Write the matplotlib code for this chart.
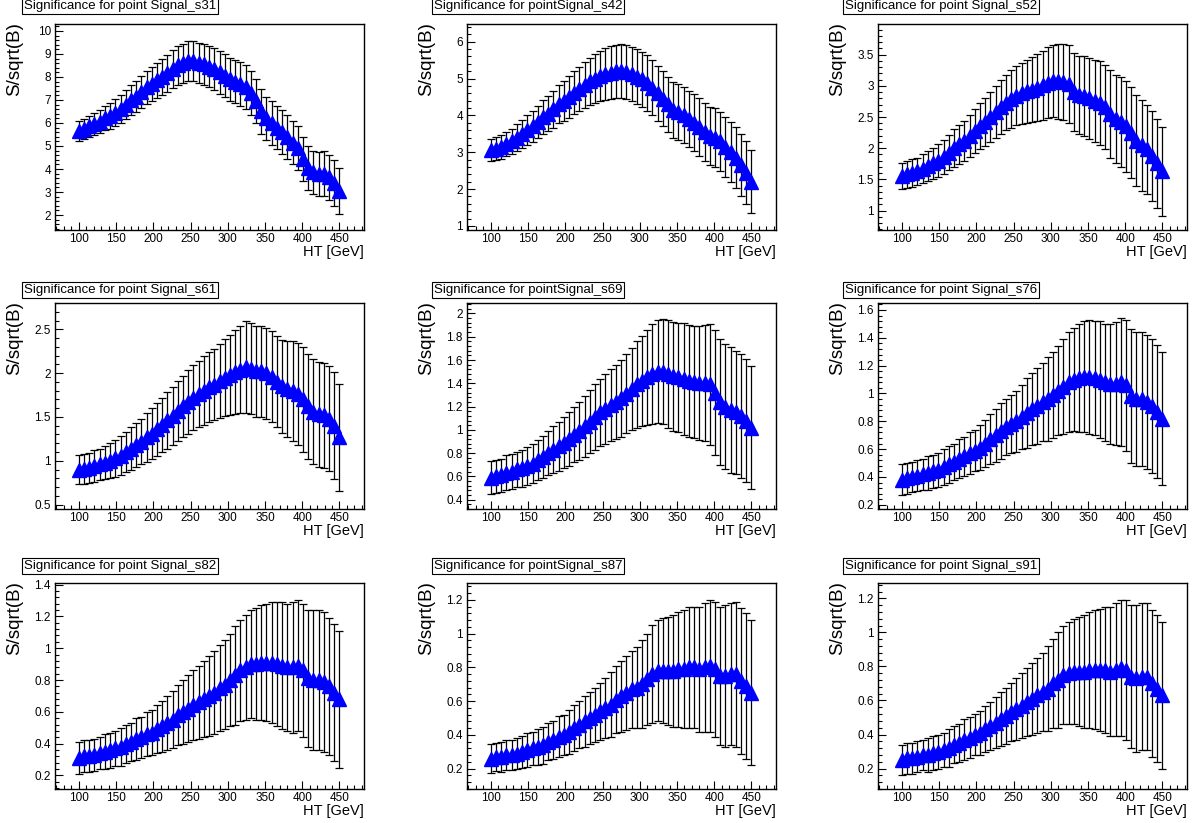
import numpy as np
import matplotlib.pyplot as plt
from matplotlib.ticker import MultipleLocator, AutoMinorLocator, FuncFormatter

plt.rcParams['font.family'] = ['Liberation Sans', 'DejaVu Sans']

# HT bin centres [GeV]
ht = [100, 107, 114, 121, 128, 135, 142, 149, 156, 163,
      170, 177, 184, 191, 198, 205, 212, 219, 226, 233,
      240, 247, 254, 261, 268, 275, 282, 289, 296, 303,
      310, 317, 324, 331, 338, 345, 352, 359, 366, 373,
      380, 387, 394, 401, 408, 415, 422, 429, 436, 443, 450]

# S/sqrt(B) and its error, one pair per signal point
s31 = [5.65, 5.75, 5.85, 5.95, 6.05, 6.2, 6.3, 6.45, 6.6, 6.8,
       7.0, 7.15, 7.35, 7.55, 7.7, 7.85, 8.0, 8.15, 8.35, 8.5,
       8.6, 8.7, 8.68, 8.6, 8.55, 8.45, 8.35, 8.2, 8.05, 7.9,
       7.8, 7.7, 7.55, 7.3, 6.95, 6.5, 6.2, 6.0, 5.8, 5.6,
       5.4, 5.15, 4.9, 4.45, 4.05, 3.85, 3.8, 3.8, 3.65, 3.4, 3.05]
e31 = [0.42, 0.43, 0.45, 0.47, 0.5, 0.52, 0.55, 0.57, 0.6, 0.62,
       0.65, 0.67, 0.7, 0.72, 0.74, 0.76, 0.78, 0.8, 0.82, 0.84,
       0.85, 0.86, 0.87, 0.88, 0.89, 0.9, 0.91, 0.92, 0.93, 0.94,
       0.95, 0.95, 0.96, 0.96, 0.96, 0.96, 0.95, 0.95, 0.95, 0.95,
       0.95, 0.95, 0.95, 0.95, 0.95, 0.95, 0.96, 0.97, 0.98, 1.0, 1.0]

s42 = [3.05, 3.1, 3.15, 3.22, 3.3, 3.4, 3.5, 3.6, 3.7, 3.82,
       3.95, 4.05, 4.17, 4.3, 4.4, 4.5, 4.62, 4.72, 4.82, 4.92,
       5.0, 5.07, 5.12, 5.16, 5.2, 5.2, 5.18, 5.12, 5.05, 4.98,
       4.88, 4.75, 4.6, 4.45, 4.3, 4.15, 4.08, 4.0, 3.9, 3.8,
       3.68, 3.55, 3.45, 3.4, 3.3, 3.15, 3.0, 2.85, 2.65, 2.45, 2.2]
e42 = [0.3, 0.31, 0.32, 0.33, 0.34, 0.36, 0.38, 0.4, 0.42, 0.44,
       0.46, 0.48, 0.5, 0.52, 0.54, 0.56, 0.58, 0.6, 0.62, 0.64,
       0.66, 0.68, 0.7, 0.71, 0.72, 0.73, 0.74, 0.74, 0.75, 0.75,
       0.75, 0.75, 0.75, 0.75, 0.75, 0.75, 0.76, 0.76, 0.77, 0.77,
       0.78, 0.78, 0.79, 0.8, 0.8, 0.81, 0.82, 0.83, 0.84, 0.85, 0.85]

s52 = [1.55, 1.58, 1.6, 1.63, 1.67, 1.71, 1.76, 1.8, 1.86, 1.93,
       2.0, 2.06, 2.12, 2.2, 2.28, 2.35, 2.42, 2.5, 2.58, 2.66,
       2.73, 2.79, 2.84, 2.88, 2.91, 2.94, 2.97, 3.01, 3.05, 3.08,
       3.07, 3.06, 3.03, 2.9, 2.85, 2.83, 2.8, 2.76, 2.72, 2.66,
       2.55, 2.47, 2.42, 2.35, 2.25, 2.12, 2.05, 1.98, 1.88, 1.76, 1.63]
e52 = [0.21, 0.21, 0.22, 0.22, 0.23, 0.24, 0.25, 0.26, 0.27, 0.28,
       0.3, 0.31, 0.32, 0.34, 0.35, 0.37, 0.38, 0.4, 0.41, 0.43,
       0.44, 0.46, 0.47, 0.49, 0.51, 0.52, 0.54, 0.55, 0.57, 0.58,
       0.6, 0.61, 0.62, 0.62, 0.63, 0.64, 0.65, 0.66, 0.67, 0.68,
       0.7, 0.71, 0.72, 0.73, 0.73, 0.73, 0.73, 0.72, 0.72, 0.71, 0.71]

s61 = [0.9, 0.91, 0.92, 0.94, 0.96, 0.98, 1.0, 1.03, 1.06, 1.1,
       1.14, 1.18, 1.22, 1.27, 1.31, 1.36, 1.41, 1.46, 1.51, 1.57,
       1.62, 1.67, 1.72, 1.76, 1.8, 1.84, 1.87, 1.91, 1.95, 1.98,
       2.01, 2.04, 2.07, 2.05, 2.02, 2.02, 2.0, 1.96, 1.9, 1.85,
       1.82, 1.8, 1.76, 1.7, 1.62, 1.56, 1.53, 1.52, 1.48, 1.4, 1.27]
e61 = [0.17, 0.17, 0.17, 0.18, 0.18, 0.19, 0.2, 0.21, 0.22, 0.23,
       0.24, 0.25, 0.26, 0.28, 0.29, 0.3, 0.31, 0.32, 0.33, 0.34,
       0.35, 0.36, 0.37, 0.38, 0.39, 0.4, 0.41, 0.42, 0.44, 0.46,
       0.48, 0.5, 0.52, 0.52, 0.52, 0.52, 0.52, 0.52, 0.52, 0.53,
       0.55, 0.57, 0.58, 0.6, 0.6, 0.6, 0.6, 0.6, 0.6, 0.61, 0.61]

s69 = [0.59, 0.6, 0.61, 0.63, 0.64, 0.66, 0.67, 0.69, 0.71, 0.74,
       0.77, 0.8, 0.83, 0.86, 0.89, 0.92, 0.96, 0.99, 1.03, 1.07,
       1.11, 1.15, 1.18, 1.21, 1.24, 1.27, 1.31, 1.35, 1.39, 1.42,
       1.45, 1.48, 1.5, 1.5, 1.48, 1.46, 1.45, 1.44, 1.42, 1.41,
       1.4, 1.4, 1.39, 1.32, 1.24, 1.2, 1.17, 1.15, 1.12, 1.08, 1.02]
e69 = [0.14, 0.14, 0.14, 0.15, 0.15, 0.15, 0.16, 0.16, 0.17, 0.17,
       0.18, 0.19, 0.2, 0.21, 0.22, 0.23, 0.24, 0.25, 0.26, 0.27,
       0.28, 0.29, 0.3, 0.31, 0.32, 0.33, 0.34, 0.35, 0.37, 0.39,
       0.41, 0.43, 0.44, 0.45, 0.46, 0.47, 0.47, 0.48, 0.48, 0.48,
       0.49, 0.5, 0.52, 0.54, 0.54, 0.54, 0.54, 0.53, 0.53, 0.53, 0.53]

s76 = [0.38, 0.39, 0.4, 0.41, 0.42, 0.43, 0.44, 0.45, 0.47, 0.49,
       0.51, 0.53, 0.55, 0.57, 0.59, 0.61, 0.64, 0.67, 0.7, 0.73,
       0.76, 0.78, 0.8, 0.83, 0.86, 0.89, 0.91, 0.94, 0.96, 0.99,
       1.02, 1.05, 1.08, 1.1, 1.11, 1.12, 1.12, 1.11, 1.1, 1.08,
       1.07, 1.07, 1.08, 1.06, 0.98, 0.96, 0.96, 0.94, 0.91, 0.87, 0.82]
e76 = [0.11, 0.11, 0.11, 0.11, 0.11, 0.12, 0.12, 0.12, 0.13, 0.13,
       0.13, 0.14, 0.14, 0.15, 0.15, 0.16, 0.17, 0.18, 0.19, 0.2,
       0.2, 0.21, 0.22, 0.23, 0.25, 0.26, 0.27, 0.28, 0.3, 0.31,
       0.32, 0.34, 0.36, 0.37, 0.39, 0.4, 0.41, 0.41, 0.42, 0.42,
       0.43, 0.44, 0.46, 0.47, 0.48, 0.48, 0.48, 0.48, 0.48, 0.48, 0.48]

s82 = [0.31, 0.32, 0.32, 0.33, 0.34, 0.35, 0.36, 0.37, 0.38, 0.4,
       0.41, 0.43, 0.44, 0.46, 0.47, 0.49, 0.51, 0.53, 0.55, 0.58,
       0.6, 0.62, 0.64, 0.66, 0.68, 0.7, 0.72, 0.75, 0.77, 0.8,
       0.83, 0.86, 0.88, 0.9, 0.9, 0.91, 0.91, 0.91, 0.9, 0.89,
       0.88, 0.88, 0.89, 0.86, 0.81, 0.8, 0.8, 0.79, 0.76, 0.72, 0.68]
e82 = [0.1, 0.1, 0.1, 0.1, 0.1, 0.11, 0.11, 0.11, 0.12, 0.12,
       0.12, 0.13, 0.13, 0.14, 0.14, 0.15, 0.16, 0.17, 0.18, 0.19,
       0.2, 0.21, 0.22, 0.23, 0.24, 0.25, 0.26, 0.27, 0.28, 0.29,
       0.31, 0.32, 0.33, 0.34, 0.35, 0.36, 0.37, 0.38, 0.39, 0.4,
       0.4, 0.41, 0.41, 0.42, 0.43, 0.44, 0.44, 0.44, 0.43, 0.43, 0.43]

s87 = [0.26, 0.27, 0.27, 0.28, 0.28, 0.29, 0.3, 0.31, 0.32, 0.33,
       0.34, 0.36, 0.37, 0.39, 0.4, 0.42, 0.44, 0.46, 0.48, 0.5,
       0.52, 0.54, 0.56, 0.58, 0.61, 0.63, 0.65, 0.67, 0.68, 0.7,
       0.73, 0.76, 0.78, 0.78, 0.78, 0.78, 0.79, 0.79, 0.8, 0.8,
       0.79, 0.8, 0.81, 0.79, 0.75, 0.75, 0.76, 0.76, 0.72, 0.69, 0.65]
e87 = [0.085, 0.085, 0.09, 0.09, 0.09, 0.09, 0.095, 0.1, 0.1, 0.105,
       0.11, 0.11, 0.115, 0.12, 0.12, 0.13, 0.135, 0.14, 0.15, 0.155,
       0.16, 0.17, 0.18, 0.19, 0.2, 0.21, 0.22, 0.23, 0.24, 0.26,
       0.27, 0.29, 0.3, 0.31, 0.32, 0.33, 0.34, 0.35, 0.36, 0.36,
       0.37, 0.38, 0.39, 0.4, 0.41, 0.42, 0.42, 0.43, 0.43, 0.43, 0.43]

s91 = [0.25, 0.26, 0.26, 0.27, 0.28, 0.28, 0.29, 0.3, 0.31, 0.32,
       0.34, 0.35, 0.37, 0.38, 0.4, 0.41, 0.43, 0.45, 0.47, 0.49,
       0.51, 0.53, 0.55, 0.57, 0.59, 0.61, 0.63, 0.65, 0.67, 0.7,
       0.72, 0.75, 0.76, 0.77, 0.77, 0.77, 0.78, 0.78, 0.78, 0.78,
       0.77, 0.78, 0.79, 0.78, 0.74, 0.73, 0.74, 0.74, 0.7, 0.67, 0.63]
e91 = [0.09, 0.09, 0.09, 0.09, 0.09, 0.1, 0.1, 0.1, 0.1, 0.11,
       0.11, 0.11, 0.12, 0.12, 0.12, 0.13, 0.135, 0.14, 0.15, 0.16,
       0.165, 0.17, 0.18, 0.19, 0.2, 0.21, 0.22, 0.23, 0.25, 0.26,
       0.28, 0.29, 0.3, 0.31, 0.32, 0.33, 0.34, 0.35, 0.36, 0.37,
       0.38, 0.39, 0.4, 0.41, 0.42, 0.43, 0.43, 0.43, 0.43, 0.43, 0.43]

titles = ['Significance for point Signal_s31', 'Significance for pointSignal_s42',
          'Significance for point Signal_s52', 'Significance for point Signal_s61',
          'Significance for pointSignal_s69', 'Significance for point Signal_s76',
          'Significance for point Signal_s82', 'Significance for pointSignal_s87',
          'Significance for point Signal_s91']
values = [s31, s42, s52, s61, s69, s76, s82, s87, s91]
errors = [e31, e42, e52, e61, e69, e76, e82, e87, e91]
y_ranges = [(1.35, 10.3), (0.89, 6.48), (0.69, 3.99), (0.45, 2.80), (0.32, 2.09),
            (0.17, 1.65), (0.115, 1.41), (0.08, 1.30), (0.08, 1.29)]
y_steps = [1, 1, 0.5, 0.5, 0.2, 0.2, 0.2, 0.2, 0.2]

W, H = 1201, 823
fig = plt.figure(figsize=(W / 100, H / 100), dpi=100)
fig.patch.set_facecolor('white')

col_left = [55, 467, 878]
row_top = [24, 303, 583]
box_left = [22, 432, 843]
box_mid = [6, 290, 566]
aw, ah = 309, 206

for i in range(9):
    r, c = divmod(i, 3)
    ax = fig.add_axes([col_left[c] / W, 1 - (row_top[r] + ah) / H, aw / W, ah / H])
    ax.errorbar(ht, values[i], yerr=errors[i], fmt='none', ecolor='black',
                elinewidth=0.9, capsize=2.6, capthick=0.9, zorder=2)
    ax.plot(ht, values[i], linestyle='none', marker='^', ms=9.5,
            color='#0000ff', mec='#0000ff', zorder=3)

    ax.set_xlim(68, 483)
    ax.set_ylim(*y_ranges[i])
    ax.xaxis.set_major_locator(MultipleLocator(50))
    ax.xaxis.set_minor_locator(AutoMinorLocator(5))
    ax.yaxis.set_major_locator(MultipleLocator(y_steps[i]))
    ax.yaxis.set_minor_locator(AutoMinorLocator(5))
    ax.yaxis.set_major_formatter(FuncFormatter(lambda v, _: f'{v:g}'))
    ax.tick_params(which='both', direction='in', top=False, right=False,
                   width=0.8, labelsize=8.5)
    ax.tick_params(which='major', length=6)
    ax.tick_params(which='minor', length=3)
    ax.tick_params(axis='x', pad=2)
    ax.tick_params(axis='y', pad=3)
    for sp in ax.spines.values():
        sp.set_linewidth(1.0)

    ax.text(-0.13, 1.01, 'S/sqrt(B)', rotation=90, ha='center', va='top',
            fontsize=13.5, transform=ax.transAxes)
    ax.text(1.0, -0.105, 'HT [GeV]', ha='right', va='center',
            fontsize=10.5, transform=ax.transAxes)

    fig.text((box_left[c] + 2) / W, 1 - box_mid[r] / H, titles[i], fontsize=9.5,
             ha='left', va='center',
             bbox=dict(boxstyle='square,pad=0.12', fc='white', ec='black', lw=0.8))

fig.savefig('out.png', dpi=100)
